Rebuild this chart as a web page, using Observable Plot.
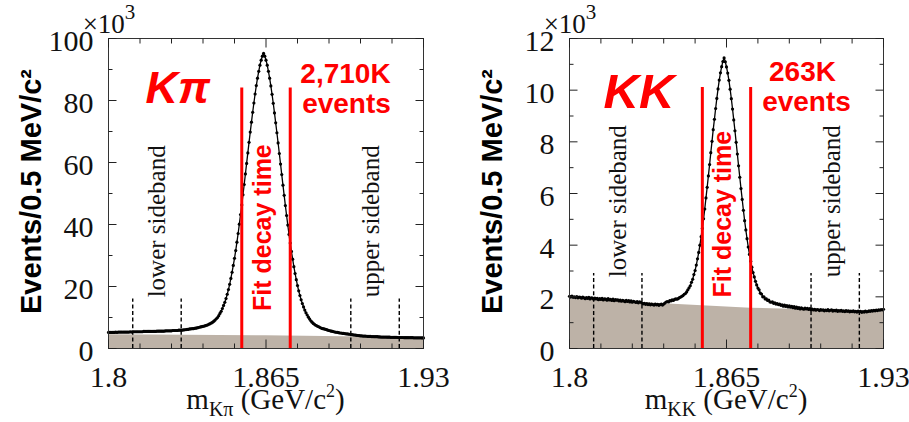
<!DOCTYPE html>
<html><head><meta charset="utf-8">
<script src="https://cdn.jsdelivr.net/npm/d3@7"></script>
<script src="https://cdn.jsdelivr.net/npm/@observablehq/plot@0.6"></script>
<style>
body{margin:0;background:#fff;}
#wrap{display:flex;width:909px;height:422px;overflow:hidden;}
</style></head><body><div id="wrap"></div>
<script>
// ---- data (x10^3 events per 0.5 MeV bin, bins start at 1.8 GeV) ----
const massStart = 1.8, binWidth = 0.0005;
const kpiCounts = [
5.2,5.2,5.2,5.2,5.2,5.2,5.3,5.2,5.3,5.3,
5.3,5.3,5.3,5.3,5.3,5.3,5.3,5.3,5.4,5.3,
5.4,5.4,5.4,5.4,5.4,5.4,5.4,5.4,5.4,5.5,
5.5,5.5,5.5,5.5,5.5,5.5,5.5,5.5,5.5,5.5,
5.6,5.6,5.6,5.6,5.6,5.6,5.6,5.7,5.7,5.7,
5.7,5.7,5.7,5.8,5.8,5.8,5.8,5.8,5.9,5.9,
5.9,5.95,6.0,6.05,6.1,6.15,6.2,6.3,6.35,6.4,
6.4,6.5,6.55,6.65,6.75,6.85,6.95,7.05,7.15,7.25,
7.35,7.5,7.65,7.85,8.05,8.25,8.5,8.8,9.2,9.6,
10.0,10.6,11.3,12.0,12.9,13.9,14.9,16.1,17.5,19.0,
20.7,22.6,24.6,26.8,29.1,31.6,34.3,37.1,40.1,43.2,
46.3,49.6,52.9,56.3,59.7,63.1,66.5,69.8,73.0,76.2,
79.2,82.1,84.8,87.2,89.4,91.4,93.0,94.3,
95.2,
94.3,93.0,91.4,89.4,87.2,84.7,82.0,79.1,
76.0,72.8,69.6,66.3,62.9,59.5,56.1,52.7,49.4,46.1,
42.9,39.8,36.8,34.0,31.3,28.8,26.4,24.2,22.2,20.3,
18.6,17.1,15.7,14.5,13.4,12.4,11.5,10.8,10.1,9.5,
8.95,8.5,8.1,7.8,7.5,7.3,7.1,6.9,6.7,6.5,
6.4,6.3,6.2,6.1,5.9,5.8,5.7,5.6,5.5,5.4,
5.3,5.25,5.2,5.1,5.0,5.0,4.9,4.85,4.8,4.75,
4.7,4.65,4.6,4.5,4.45,4.4,4.35,4.3,4.25,4.2,
4.15,4.1,4.1,4.0,4.0,4.0,3.95,3.9,3.9,3.9,
3.85,3.85,3.8,3.8,3.8,3.8,3.75,3.75,3.7,3.7,
3.7,3.7,3.7,3.65,3.65,3.65,3.6,3.6,3.6,3.6,
3.6,3.6,3.55,3.55,3.55,3.55,3.55,3.5,3.5,3.5,
3.5,3.5,3.5,3.5,3.5,3.45,3.45,3.45,3.45,3.45,
3.45,3.45,3.4,3.4];
const kkCounts = [
2.02,1.99,2.03,1.98,2.00,1.97,2.01,1.96,1.99,1.98,
1.95,1.99,1.96,1.93,1.97,1.94,1.98,1.92,1.96,1.95,
1.91,1.95,1.92,1.94,1.89,1.93,1.90,1.94,1.88,1.92,
1.91,1.87,1.93,1.88,1.90,1.86,1.91,1.85,1.89,1.87,
1.88,1.84,1.87,1.83,1.86,1.84,1.81,1.86,1.82,1.85,
1.80,1.84,1.79,1.83,1.81,1.78,1.82,1.77,1.81,1.79,
1.76,1.73,1.75,1.71,1.74,1.70,1.73,1.69,1.72,1.70,
1.68,1.72,1.69,1.71,1.67,1.70,1.72,1.68,1.72,1.76,
1.80,1.82,1.80,1.85,1.84,1.88,1.86,1.90,1.92,1.91,
1.93,1.97,1.99,2.02,2.05,2.10,2.13,2.19,2.27,2.35,
2.43,2.56,2.68,2.86,3.02,3.23,3.47,3.72,4.00,4.33,
4.65,5.02,5.40,5.83,6.24,6.68,7.12,7.58,8.02,8.47,
8.87,9.29,9.68,10.05,10.39,10.67,10.91,11.11,
11.25,
11.10,10.90,10.66,10.38,10.04,9.67,9.27,8.85,
8.43,7.98,7.53,7.07,6.63,6.19,5.77,5.35,4.95,4.59,
4.25,3.93,3.64,3.38,3.15,2.94,2.77,2.60,2.46,2.34,
2.27,2.14,2.11,2.00,2.00,1.92,1.92,1.86,1.87,1.80,
1.79,1.81,1.75,1.77,1.72,1.74,1.70,1.72,1.67,1.69,
1.64,1.68,1.63,1.66,1.61,1.65,1.60,1.63,1.58,1.62,
1.56,1.60,1.55,1.58,1.53,1.57,1.54,1.52,1.56,1.53,
1.55,1.51,1.54,1.50,1.53,1.49,1.52,1.48,1.51,1.50,
1.47,1.51,1.48,1.50,1.46,1.49,1.47,1.51,1.46,1.48,
1.50,1.45,1.48,1.46,1.49,1.44,1.47,1.45,1.48,1.44,
1.46,1.43,1.47,1.44,1.46,1.42,1.45,1.43,1.46,1.42,
1.44,1.41,1.45,1.42,1.44,1.40,1.43,1.41,1.45,1.42,
1.43,1.46,1.44,1.47,1.45,1.48,1.46,1.49,1.47,1.50,
1.48,1.51,1.49,1.52];
// background (shaded) component
const kpiBgMass = [1.8, 1.865, 1.93];
const kpiBgLevel = [4.4, 4.1, 3.5];
const kkBgMass = [1.8, 1.845, 1.875, 1.93];
const kkBgLevel = [1.93, 1.70, 1.56, 1.42];
// sideband and signal window edges (GeV)
const sidebandEdges = [1.81, 1.83, 1.90, 1.92];
const signalEdges = [1.855, 1.875];
// ticks
const xTicks = [1.8,1.813,1.826,1.839,1.852,1.865,1.878,1.891,1.904,1.917,1.93];
const xMajor = [1.8, 1.865, 1.93];
const xTickLabels = ["1.8", "1.865", "1.93"];
const kpiYTicks = [0,10,20,30,40,50,60,70,80,90,100];
const kpiYMajor = [0,20,40,60,80,100];
const kkYTicks = [0,1,2,3,4,5,6,7,8,9,10,11,12];
const kkYMajor = [0,2,4,6,8,10,12];

const RED = "#ff0000", BG = "#bdb2a7";
const SANS = "Liberation Sans, Arial, sans-serif";
const SERIF = "Liberation Serif, Times New Roman, serif";

function panel(o) {
  const rows = o.counts.map((n, i) => ({m: massStart + i * binWidth, n}));
  const bg = o.bgMass.map((m, i) => ({m, n: o.bgLevel[i]}));
  const yMinor = o.yTicks.filter(d => !o.yMajor.includes(d));
  const xMinor = xTicks.filter(d => !xMajor.includes(d));
  const yMax = o.yMax;
  const tick = {r: 0, anchor: "start", stroke: "#222", strokeWidth: 1, strokeLinecap: "butt"};
  const svg = Plot.plot({
    width: o.w, height: 422,
    marginLeft: o.ml, marginRight: o.mr, marginTop: 38, marginBottom: 74,
    x: {domain: [1.8, 1.93], axis: null},
    y: {domain: [0, yMax], axis: null},
    style: {fontFamily: SERIF, background: "white", overflow: "visible"},
    marks: [
      Plot.areaY(bg, {x: "m", y: "n", fill: BG}),
      Plot.ruleX(sidebandEdges, {x: d => d, y1: 0, y2: o.dashTop, stroke: "#000", strokeWidth: 1.4, strokeDasharray: "4,2.6"}),
      Plot.text(["lower sideband"], {x: 1.8200, y: o.sideY, rotate: -90, textAnchor: "start", lineAnchor: "middle", fontSize: 25, fontFamily: SERIF, fill: "#111"}),
      Plot.text(["upper sideband"], {x: 1.9085, y: o.sideY, rotate: -90, textAnchor: "start", lineAnchor: "middle", fontSize: 25, fontFamily: SERIF, fill: "#111"}),
      Plot.line(rows, {x: "m", y: "n", stroke: "#000", strokeWidth: 1.3}),
      Plot.dot(rows, {x: "m", y: "n", r: 1.6, fill: "#000"}),
      Plot.ruleX(signalEdges, {x: d => d, y1: 0, y2: o.redTop, stroke: RED, strokeWidth: 3}),
      Plot.text(["Fit decay time"], {x: 1.8637, y: o.fitY, rotate: -90, textAnchor: "middle", lineAnchor: "middle", fontSize: 25, fontWeight: "bold", fontFamily: SANS, fill: RED}),
      Plot.text([o.label], {frameAnchor: "top-left", dx: o.labelDx, dy: o.labelDy, textAnchor: "start", lineAnchor: "bottom", fontSize: o.labelSize, fontWeight: "bold", fontStyle: "italic", fontFamily: SANS, fill: RED}),
      Plot.text([o.countText], {frameAnchor: "top-left", dx: o.countDx, dy: o.countDy, textAnchor: "middle", lineAnchor: "bottom", fontSize: 28, fontWeight: "bold", fontFamily: SANS, fill: RED}),
      Plot.text(["events"], {frameAnchor: "top-left", dx: o.eventsDx, dy: o.eventsDy, textAnchor: "middle", lineAnchor: "bottom", fontSize: 28, fontWeight: "bold", fontFamily: SANS, fill: RED}),
      Plot.frame({stroke: "#333", strokeWidth: 1}),
      // ticks (inward, on all four sides)
      Plot.vector(xMajor, {...tick, x: d => d, y: 0, length: 9, rotate: 0}),
      Plot.vector(xMinor, {...tick, x: d => d, y: 0, length: 5, rotate: 0}),
      Plot.vector(xMajor, {...tick, x: d => d, y: yMax, length: 9, rotate: 180}),
      Plot.vector(xMinor, {...tick, x: d => d, y: yMax, length: 5, rotate: 180}),
      Plot.vector(o.yMajor, {...tick, y: d => d, x: 1.8, length: 8, rotate: 90}),
      Plot.vector(yMinor, {...tick, y: d => d, x: 1.8, length: 4, rotate: 90}),
      Plot.vector(o.yMajor, {...tick, y: d => d, x: 1.93, length: 8, rotate: -90}),
      Plot.vector(yMinor, {...tick, y: d => d, x: 1.93, length: 4, rotate: -90}),
      // tick labels
      Plot.text(xMajor, {x: d => d, frameAnchor: "bottom", dy: 38, lineAnchor: "bottom", textAnchor: "middle", text: (d, i) => xTickLabels[i], fontSize: 30, fill: "#111"}),
      Plot.text(o.yMajor, {y: d => d, frameAnchor: "left", dx: -15, dy: 3, textAnchor: "end", lineAnchor: "middle", text: d => String(d), fontSize: 30, fill: "#111"}),
      Plot.text(["Events/0.5 MeV/c\u00b2"], {frameAnchor: "left", dx: -68, dy: -2, rotate: -90, textAnchor: "middle", lineAnchor: "bottom", fontSize: 29, fontWeight: "bold", fontFamily: SANS, fill: "#000"})
    ]
  });
  const s = d3.select(svg);
  // exponent label
  const e = s.append("text").attr("x", o.ml + 1).attr("y", 33)
    .attr("font-family", SERIF).attr("font-size", 27).attr("fill", "#111");
  e.append("tspan").text("\u00d710");
  e.append("tspan").attr("font-size", 21).attr("dy", -14).text("3");
  // x-axis title with subscript / superscript
  const cx = o.ml + (o.w - o.ml - o.mr) / 2;
  const t = s.append("text")
    .attr("x", cx).attr("y", 409).attr("text-anchor", "middle")
    .attr("font-family", SERIF).attr("font-size", 29).attr("fill", "#111");
  t.append("tspan").text("m");
  t.append("tspan").attr("font-size", 20).attr("dy", 7).text(o.sub);
  t.append("tspan").attr("dy", -7).text(" (GeV/c");
  t.append("tspan").attr("font-size", 18).attr("dy", -12).text("2");
  t.append("tspan").attr("dy", 12).text(")");
  return svg;
}

const wrap = document.getElementById("wrap");
wrap.appendChild(panel({
  counts: kpiCounts, bgMass: kpiBgMass, bgLevel: kpiBgLevel,
  yMax: 100, yTicks: kpiYTicks, yMajor: kpiYMajor,
  dashTop: 16, redTop: 84, fitY: 39, sideY: 16.5,
  label: "K\u03c0", labelSize: 45, labelDx: 37, labelDy: 64,
  countText: "2,710K", countDx: 237, countDy: 44, eventsDx: 238, eventsDy: 74,
  sub: "K\u03c0", w: 454, ml: 108, mr: 31
}));
wrap.appendChild(panel({
  counts: kkCounts, bgMass: kkBgMass, bgLevel: kkBgLevel,
  yMax: 12, yTicks: kkYTicks, yMajor: kkYMajor,
  dashTop: 2.9, redTop: 10.1, fitY: 5.2, sideY: 2.76,
  label: "KK", labelSize: 49, labelDx: 34, labelDy: 69,
  countText: "263K", countDx: 233, countDy: 42, eventsDx: 237, eventsDy: 72,
  sub: "KK", w: 455, ml: 115, mr: 26
}));
</script></body></html>
